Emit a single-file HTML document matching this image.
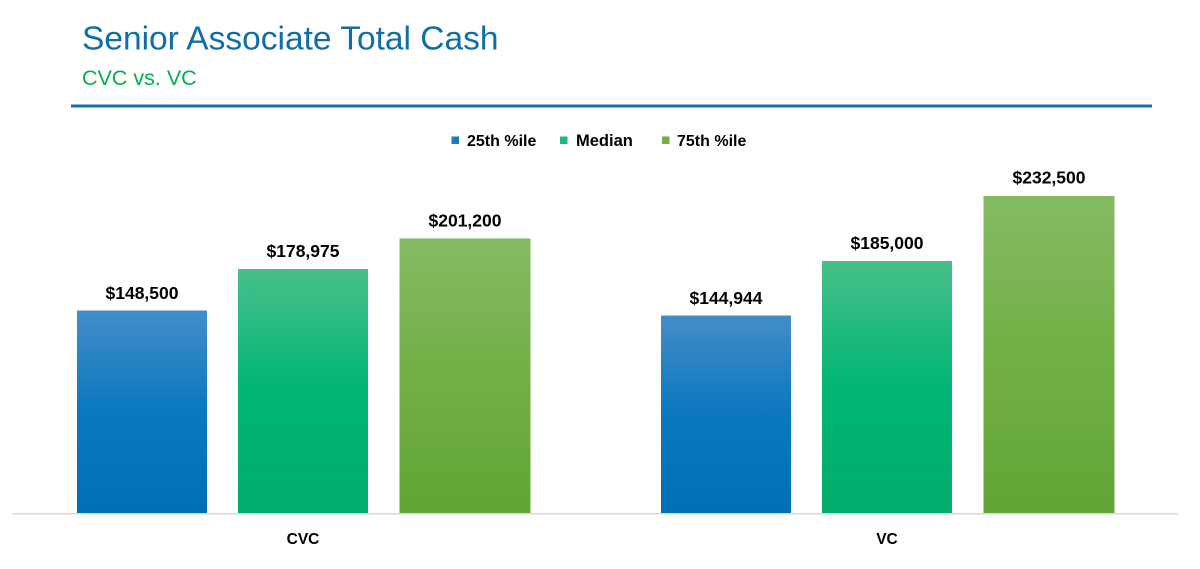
<!DOCTYPE html>
<html>
<head>
<meta charset="utf-8">
<style>
html,body{margin:0;padding:0;background:#fff;}
svg{display:block;}
text{font-family:"Liberation Sans",Arial,sans-serif;}
</style>
</head>
<body>
<svg width="1200" height="569" viewBox="0 0 1200 569" xmlns="http://www.w3.org/2000/svg">
<defs>
<linearGradient id="gb" x1="0" y1="0" x2="0" y2="1">
<stop offset="0" stop-color="#448dc9"/>
<stop offset="0.5" stop-color="#0a78bf"/>
<stop offset="1" stop-color="#0070b6"/>
</linearGradient>
<linearGradient id="gg" x1="0" y1="0" x2="0" y2="1">
<stop offset="0" stop-color="#48bf8a"/>
<stop offset="0.5" stop-color="#00b674"/>
<stop offset="1" stop-color="#02ad6d"/>
</linearGradient>
<linearGradient id="gl" x1="0" y1="0" x2="0" y2="1">
<stop offset="0" stop-color="#85ba63"/>
<stop offset="0.5" stop-color="#71b045"/>
<stop offset="1" stop-color="#62a436"/>
</linearGradient>
</defs>

<text x="82" y="49.5" font-size="33.5" fill="#0f6ea7">Senior Associate Total Cash</text>
<text x="82" y="85" font-size="21.5" fill="#00b050">CVC vs. VC</text>
<rect x="71" y="104.5" width="1081" height="3" fill="#1170a8"/>

<!-- legend -->
<rect x="451.5" y="136.5" width="7.5" height="7.5" fill="#1a7cc0"/>
<text x="467" y="146" font-size="16" font-weight="bold" fill="#000">25th %ile</text>
<rect x="560" y="136.5" width="7.5" height="7.5" fill="#1fb87c"/>
<text x="576" y="146" font-size="16.5" font-weight="bold" fill="#000">Median</text>
<rect x="662" y="136.5" width="7.5" height="7.5" fill="#72b046"/>
<text x="677" y="146" font-size="16" font-weight="bold" fill="#000">75th %ile</text>

<!-- axis -->
<rect x="12" y="513" width="1166" height="1.5" fill="#d9d9d9"/>

<!-- CVC bars -->
<rect x="77" y="310.5" width="130" height="202.5" fill="url(#gb)"/>
<rect x="238" y="269" width="130" height="244" fill="url(#gg)"/>
<rect x="399.5" y="238.5" width="131" height="274.5" fill="url(#gl)"/>

<!-- VC bars -->
<rect x="661" y="315.5" width="130" height="197.5" fill="url(#gb)"/>
<rect x="822" y="261" width="130" height="252" fill="url(#gg)"/>
<rect x="983.5" y="196" width="131" height="317" fill="url(#gl)"/>

<!-- data labels -->
<g font-size="17.5" font-weight="bold" fill="#000" text-anchor="middle">
<text x="142" y="299">$148,500</text>
<text x="303" y="257">$178,975</text>
<text x="465" y="226.5">$201,200</text>
<text x="726" y="304">$144,944</text>
<text x="887" y="249">$185,000</text>
<text x="1049" y="183.5">$232,500</text>
</g>

<!-- x labels -->
<g font-size="15.5" font-weight="bold" fill="#000" text-anchor="middle">
<text x="303" y="544">CVC</text>
<text x="887" y="544">VC</text>
</g>
</svg>
</body>
</html>
